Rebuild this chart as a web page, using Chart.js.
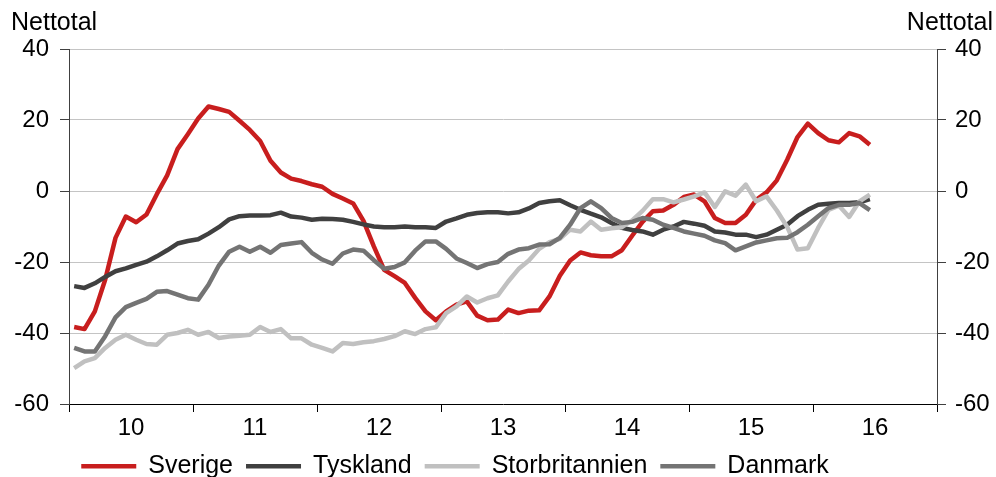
<!DOCTYPE html>
<html>
<head>
<meta charset="utf-8">
<script src="https://cdn.jsdelivr.net/npm/chart.js@4.4.0/dist/chart.umd.min.js"></script>
<style>
    html, body { margin: 0; padding: 0; background: #fff; }
    #wrap { width: 996px; height: 477px; }
</style>
</head>
<body>
<div id="wrap"><canvas id="chart" width="996" height="477"></canvas></div>
<script>
// Årtal på x-axeln (ett per år, månadsdata från jan 2010)
const yearLabels = ["10", "11", "12", "13", "14", "15", "16"];
const seriesNames = ["Sverige", "Tyskland", "Storbritannien", "Danmark"];
const axisTitle = "Nettotal";

const sverige = [
    -38.3, -38.9, -33.9, -25.0, -13.2, -7.2, -8.8, -6.6, -0.9, 4.4, 11.8, 16.0,
    20.4, 23.8, 23.1, 22.3, 19.8, 17.2, 14.1, 8.5, 5.2, 3.5, 2.8, 1.9,
    1.2, -0.8, -2.1, -3.5, -8.4, -15.6, -22.2, -24.0, -25.9, -30.1, -33.9, -36.4,
    -33.9, -32.0, -31.1, -35.1, -36.4, -36.2, -33.4, -34.4, -33.7, -33.6, -29.7, -23.9,
    -19.6, -17.3, -18.1, -18.4, -18.4, -16.7, -12.6, -8.7, -5.7, -5.5, -3.9, -1.7,
    -1.0, -2.9, -7.6, -9.0, -9.0, -6.7, -2.5, -0.4, 3.0, 8.8, 15.2, 19.0,
    16.3, 14.3, 13.7, 16.3, 15.4, 13.0
];
const tyskland = [
    -26.8, -27.3, -26.0, -24.2, -22.6, -21.8, -20.8, -19.9, -18.4, -16.7, -14.8, -14.1,
    -13.6, -12.0, -10.2, -8.0, -7.1, -6.9, -6.9, -6.8, -6.1, -7.2, -7.5, -8.1,
    -7.8, -7.9, -8.1, -8.7, -9.4, -10.0, -10.2, -10.2, -10.0, -10.2, -10.2, -10.4,
    -8.6, -7.7, -6.7, -6.2, -6.0, -6.0, -6.3, -6.0, -4.9, -3.4, -2.9, -2.6,
    -4.0, -5.3, -6.4, -7.4, -9.0, -10.4, -11.0, -11.4, -12.3, -10.9, -10.0, -8.7,
    -9.2, -9.8, -11.4, -11.7, -12.3, -12.3, -13.0, -12.3, -10.9, -9.5, -7.1, -5.3,
    -3.9, -3.6, -3.4, -3.4, -3.2, -2.3
];
const storbritannien = [
    -49.9, -48.0, -47.1, -44.2, -41.9, -40.5, -41.9, -43.1, -43.3, -40.5, -40.0, -39.1,
    -40.5, -39.7, -41.4, -41.0, -40.8, -40.5, -38.3, -39.7, -38.9, -41.5, -41.5, -43.3,
    -44.2, -45.2, -42.8, -43.1, -42.6, -42.3, -41.7, -40.9, -39.5, -40.3, -38.9, -38.4,
    -34.4, -32.5, -29.7, -31.4, -30.2, -29.4, -25.5, -22.0, -19.6, -16.3, -14.4, -13.5,
    -10.9, -11.4, -8.6, -10.9, -10.5, -10.2, -8.3, -5.6, -2.3, -2.3, -3.2, -2.4,
    -1.5, -0.4, -4.5, -0.1, -1.3, 1.8, -2.9, -1.5, -5.5, -10.1, -16.5, -16.1,
    -10.4, -5.3, -4.1, -7.3, -2.9, -1.0
];
const danmark = [
    -44.2, -45.2, -45.2, -40.9, -35.6, -32.7, -31.5, -30.4, -28.4, -28.2, -29.2, -30.2,
    -30.6, -26.4, -21.0, -17.1, -15.7, -17.1, -15.7, -17.4, -15.2, -14.8, -14.4, -17.4,
    -19.3, -20.5, -17.6, -16.5, -16.8, -19.5, -21.9, -21.4, -20.1, -16.8, -14.2, -14.2,
    -16.3, -19.0, -20.3, -21.7, -20.6, -20.0, -17.7, -16.5, -16.1, -15.1, -15.0, -13.2,
    -9.5, -4.8, -2.9, -4.8, -7.6, -9.0, -8.7, -7.6, -8.1, -9.5, -10.4, -11.4,
    -12.0, -12.6, -13.9, -14.7, -16.7, -15.6, -14.5, -13.9, -13.3, -13.2, -11.6, -9.5,
    -7.1, -4.8, -3.9, -3.9, -3.4, -5.4
];

const colors = {
    sverige: "#c81e1e",
    tyskland: "#404040",
    storbritannien: "#c0c0c0",
    danmark: "#747474"
};

const FONT = "'Liberation Sans', Arial, sans-serif";

// Månad i -> mitten av månaden på en linjär axel (0..84)
function toPoints(values) {
    return values.map((v, i) => ({ x: i + 0.5, y: v }));
}

function makeSet(label, values, color, order) {
    return {
        label: label,
        data: toPoints(values),
        borderColor: color,
        backgroundColor: color,
        borderWidth: 4.5,
        borderJoinStyle: "round",
        pointRadius: 0,
        tension: 0,
        fill: false,
        yAxisID: "y",
        order: order
    };
}

// Axeltitlar och förklaring ritas här
const extraText = {
    id: "extraText",
    afterDraw(chart) {
        const ctx = chart.ctx;
        ctx.save();
        ctx.fillStyle = "#000";
        ctx.font = "25px " + FONT;
        ctx.textBaseline = "alphabetic";
        ctx.textAlign = "left";
        ctx.fillText(axisTitle, 11, 30);
        ctx.textAlign = "right";
        ctx.fillText(axisTitle, 993, 30);

        ctx.font = "25px " + FONT;
        ctx.textAlign = "left";
        const lineLen = 55, gapText = 12, gapItem = 13;
        const items = chart.data.datasets.map(ds => ({
            label: ds.label,
            color: ds.borderColor,
            w: ctx.measureText(ds.label).width
        }));
        const total = items.reduce((s, it) => s + lineLen + gapText + it.w, 0) + gapItem * (items.length - 1);
        let x = 455 - total / 2;
        items.forEach(it => {
            ctx.fillStyle = it.color;
            ctx.fillRect(x, 464, lineLen, 4.5);
            x += lineLen + gapText;
            ctx.fillStyle = "#000";
            ctx.fillText(it.label, x, 473);
            x += it.w + gapItem;
        });
        ctx.restore();
    }
};

new Chart(document.getElementById("chart"), {
    type: "line",
    data: {
        datasets: [
            makeSet(seriesNames[0], sverige, colors.sverige, 4),
            makeSet(seriesNames[1], tyskland, colors.tyskland, 3),
            makeSet(seriesNames[2], storbritannien, colors.storbritannien, 2),
            makeSet(seriesNames[3], danmark, colors.danmark, 1)
        ]
    },
    options: {
        responsive: false,
        animation: false,
        devicePixelRatio: 1,
        events: [],
        layout: { padding: { top: 49, left: 0, right: 0, bottom: 0 } },
        plugins: {
            legend: { display: false },
            tooltip: { enabled: false }
        },
        scales: {
            x: {
                type: "linear",
                min: 0,
                max: 84,
                afterFit(scale) { scale.height = 73; },
                ticks: {
                    stepSize: 6,
                    autoSkip: false,
                    maxRotation: 0,
                    padding: 2,
                    color: "#000",
                    font: { family: FONT, size: 24 },
                    callback: (v) => (v % 12 === 6 ? yearLabels[(v - 6) / 12] : "")
                },
                grid: {
                    drawOnChartArea: false,
                    drawTicks: true,
                    tickLength: 8,
                    tickColor: (c) => (c.tick && c.tick.value % 12 === 0 ? "#000" : "rgba(0,0,0,0)")
                },
                border: { display: true, color: "#000", width: 1 }
            },
            y: {
                position: "left",
                min: -60,
                max: 40,
                afterFit(scale) { scale.width = 69; },
                ticks: {
                    stepSize: 20,
                    padding: 11,
                    color: "#000",
                    font: { family: FONT, size: 24 }
                },
                grid: {
                    color: (c) => (c.tick && c.tick.value === -60 ? "rgba(0,0,0,0)" : "#c4c4c4"),
                    tickColor: "#404040",
                    tickLength: 9,
                    drawTicks: true
                },
                border: { color: "#404040", width: 1 }
            },
            y2: {
                position: "right",
                min: -60,
                max: 40,
                afterFit(scale) { scale.width = 59; },
                ticks: {
                    stepSize: 20,
                    padding: 9,
                    color: "#000",
                    font: { family: FONT, size: 24 }
                },
                grid: {
                    drawOnChartArea: false,
                    tickColor: "#404040",
                    tickLength: 9
                },
                border: { color: "#404040", width: 1 }
            }
        }
    },
    plugins: [extraText]
});
</script>
</body>
</html>
